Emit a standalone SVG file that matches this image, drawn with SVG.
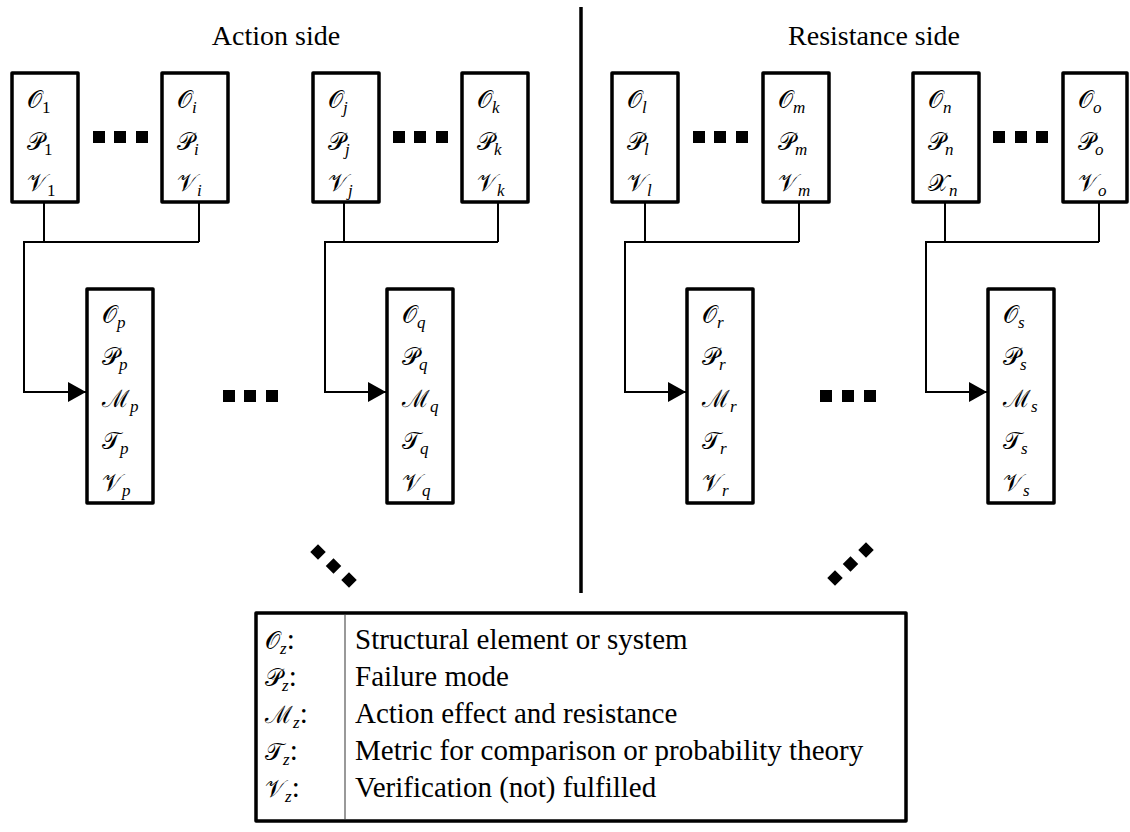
<svg xmlns="http://www.w3.org/2000/svg" width="1130" height="832" viewBox="0 0 1130 832">
<defs>
<style>
.box{fill:#fff;stroke:#000;stroke-width:3.5;stroke-linejoin:round}
.m{font-family:'DejaVu Serif','Liberation Serif','Times New Roman',serif;font-size:24px;fill:#000}
.sub{font-family:'Liberation Serif','Times New Roman','DejaVu Serif',serif;font-style:italic;font-size:17px}
.subn{font-family:'Liberation Serif','Times New Roman','DejaVu Serif',serif;font-size:17px}
.t{font-family:'Liberation Serif','Times New Roman','DejaVu Serif',serif;font-size:28px;fill:#000}
.lg{font-family:'Liberation Serif','Times New Roman','DejaVu Serif',serif;font-size:29px;fill:#000}
.conn{fill:none;stroke:#000;stroke-width:2}
.dot{fill:#000}
</style>
<marker id="ah" viewBox="0 0 18 20" refX="18" refY="10" markerWidth="18" markerHeight="20" markerUnits="userSpaceOnUse" orient="auto"><path d="M0,0 L18,10 L0,20 z" fill="#000"/></marker>
</defs>
<rect width="1130" height="832" fill="#fff"/>

<text class="t" x="276" y="45" text-anchor="middle">Action side</text>
<text class="t" x="874" y="45" text-anchor="middle">Resistance side</text>
<line x1="581" y1="7" x2="581" y2="593" stroke="#000" stroke-width="3.5"/>

<g id="connectors">
<path class="conn" d="M44,203 V242 M199,203 V242 M199,242 H24 V392 H86" marker-end="url(#ah)"/>
<path class="conn" d="M344,203 V242 M498,203 V242 M498,242 H325 V392 H386" marker-end="url(#ah)"/>
<path class="conn" d="M645,203 V242 M799,203 V242 M799,242 H625 V392 H686" marker-end="url(#ah)"/>
<path class="conn" d="M945,203 V242 M1099,203 V242 M1099,242 H926 V392 H987" marker-end="url(#ah)"/>
</g>

<g id="n1"><rect class="box" x="12" y="73" width="66" height="129"/>
<text class="m" x="27" y="108">𝒪<tspan class="subn" dy="5">1</tspan></text>
<text class="m" x="27" y="150">𝒫<tspan class="subn" dy="5">1</tspan></text>
<text class="m" x="27" y="191">𝒱<tspan class="subn" dy="5">1</tspan></text></g>
<g id="ni"><rect class="box" x="162" y="73" width="66" height="129"/>
<text class="m" x="177" y="108">𝒪<tspan class="sub" dy="5">i</tspan></text>
<text class="m" x="177" y="150">𝒫<tspan class="sub" dy="5">i</tspan></text>
<text class="m" x="177" y="191">𝒱<tspan class="sub" dy="5">i</tspan></text></g>
<g id="nj"><rect class="box" x="313" y="73" width="66" height="129"/>
<text class="m" x="328" y="108">𝒪<tspan class="sub" dy="5">j</tspan></text>
<text class="m" x="328" y="150">𝒫<tspan class="sub" dy="5">j</tspan></text>
<text class="m" x="328" y="191">𝒱<tspan class="sub" dy="5">j</tspan></text></g>
<g id="nk"><rect class="box" x="462" y="73" width="66" height="129"/>
<text class="m" x="477" y="108">𝒪<tspan class="sub" dy="5">k</tspan></text>
<text class="m" x="477" y="150">𝒫<tspan class="sub" dy="5">k</tspan></text>
<text class="m" x="477" y="191">𝒱<tspan class="sub" dy="5">k</tspan></text></g>
<g id="nl"><rect class="box" x="612" y="73" width="66" height="129"/>
<text class="m" x="627" y="108">𝒪<tspan class="sub" dy="5">l</tspan></text>
<text class="m" x="627" y="150">𝒫<tspan class="sub" dy="5">l</tspan></text>
<text class="m" x="627" y="191">𝒱<tspan class="sub" dy="5">l</tspan></text></g>
<g id="nm"><rect class="box" x="763" y="73" width="66" height="129"/>
<text class="m" x="778" y="108">𝒪<tspan class="sub" dy="5">m</tspan></text>
<text class="m" x="778" y="150">𝒫<tspan class="sub" dy="5">m</tspan></text>
<text class="m" x="778" y="191">𝒱<tspan class="sub" dy="5">m</tspan></text></g>
<g id="nn"><rect class="box" x="913" y="73" width="66" height="129"/>
<text class="m" x="928" y="108">𝒪<tspan class="sub" dy="5">n</tspan></text>
<text class="m" x="928" y="150">𝒫<tspan class="sub" dy="5">n</tspan></text>
<text class="m" x="928" y="191">𝒳<tspan class="sub" dy="5">n</tspan></text></g>
<g id="no"><rect class="box" x="1063" y="73" width="64" height="129"/>
<text class="m" x="1078" y="108">𝒪<tspan class="sub" dy="5">o</tspan></text>
<text class="m" x="1078" y="150">𝒫<tspan class="sub" dy="5">o</tspan></text>
<text class="m" x="1078" y="191">𝒱<tspan class="sub" dy="5">o</tspan></text></g>

<g id="np"><rect class="box" x="87" y="289" width="66" height="214"/>
<text class="m" x="102" y="323">𝒪<tspan class="sub" dy="5">p</tspan></text>
<text class="m" x="102" y="365">𝒫<tspan class="sub" dy="5">p</tspan></text>
<text class="m" x="102" y="407">ℳ<tspan class="sub" dy="5">p</tspan></text>
<text class="m" x="102" y="449">𝒯<tspan class="sub" dy="5">p</tspan></text>
<text class="m" x="102" y="491">𝒱<tspan class="sub" dy="5">p</tspan></text></g>
<g id="nq"><rect class="box" x="387" y="289" width="66" height="214"/>
<text class="m" x="402" y="323">𝒪<tspan class="sub" dy="5">q</tspan></text>
<text class="m" x="402" y="365">𝒫<tspan class="sub" dy="5">q</tspan></text>
<text class="m" x="402" y="407">ℳ<tspan class="sub" dy="5">q</tspan></text>
<text class="m" x="402" y="449">𝒯<tspan class="sub" dy="5">q</tspan></text>
<text class="m" x="402" y="491">𝒱<tspan class="sub" dy="5">q</tspan></text></g>
<g id="nr"><rect class="box" x="687" y="289" width="66" height="214"/>
<text class="m" x="702" y="323">𝒪<tspan class="sub" dy="5">r</tspan></text>
<text class="m" x="702" y="365">𝒫<tspan class="sub" dy="5">r</tspan></text>
<text class="m" x="702" y="407">ℳ<tspan class="sub" dy="5">r</tspan></text>
<text class="m" x="702" y="449">𝒯<tspan class="sub" dy="5">r</tspan></text>
<text class="m" x="702" y="491">𝒱<tspan class="sub" dy="5">r</tspan></text></g>
<g id="ns"><rect class="box" x="988" y="289" width="66" height="214"/>
<text class="m" x="1003" y="323">𝒪<tspan class="sub" dy="5">s</tspan></text>
<text class="m" x="1003" y="365">𝒫<tspan class="sub" dy="5">s</tspan></text>
<text class="m" x="1003" y="407">ℳ<tspan class="sub" dy="5">s</tspan></text>
<text class="m" x="1003" y="449">𝒯<tspan class="sub" dy="5">s</tspan></text>
<text class="m" x="1003" y="491">𝒱<tspan class="sub" dy="5">s</tspan></text></g>

<g id="ellipses" class="dot">
<rect x="93" y="131" width="12" height="12"/><rect x="114" y="131" width="12" height="12"/><rect x="136" y="131" width="12" height="12"/>
<rect x="393" y="131" width="12" height="12"/><rect x="414" y="131" width="12" height="12"/><rect x="436" y="131" width="12" height="12"/>
<rect x="693" y="131" width="12" height="12"/><rect x="714" y="131" width="12" height="12"/><rect x="736" y="131" width="12" height="12"/>
<rect x="993" y="131" width="12" height="12"/><rect x="1015" y="131" width="12" height="12"/><rect x="1036" y="131" width="12" height="12"/>
<rect x="223" y="390" width="12" height="12"/><rect x="244" y="390" width="12" height="12"/><rect x="266" y="390" width="12" height="12"/>
<rect x="820" y="390" width="12" height="12"/><rect x="842" y="390" width="12" height="12"/><rect x="864" y="390" width="12" height="12"/>
<rect x="-5.5" y="-5.5" width="11" height="11" transform="translate(318,552) rotate(45)"/>
<rect x="-5.5" y="-5.5" width="11" height="11" transform="translate(333.5,566) rotate(45)"/>
<rect x="-5.5" y="-5.5" width="11" height="11" transform="translate(349,580) rotate(45)"/>
<rect x="-5.5" y="-5.5" width="11" height="11" transform="translate(835,578) rotate(45)"/>
<rect x="-5.5" y="-5.5" width="11" height="11" transform="translate(850.5,564) rotate(45)"/>
<rect x="-5.5" y="-5.5" width="11" height="11" transform="translate(866,550) rotate(45)"/>
</g>

<g id="legend">
<rect class="box" x="256" y="613" width="650" height="208"/>
<line x1="345" y1="615" x2="345" y2="819" stroke="#999" stroke-width="2"/>
<text class="m" x="265" y="649">𝒪<tspan class="sub" dy="5">z</tspan><tspan class="lg" dy="-5">:</tspan></text>
<text class="m" x="265" y="686">𝒫<tspan class="sub" dy="5">z</tspan><tspan class="lg" dy="-5">:</tspan></text>
<text class="m" x="265" y="723">ℳ<tspan class="sub" dy="5">z</tspan><tspan class="lg" dy="-5">:</tspan></text>
<text class="m" x="265" y="760">𝒯<tspan class="sub" dy="5">z</tspan><tspan class="lg" dy="-5">:</tspan></text>
<text class="m" x="265" y="797">𝒱<tspan class="sub" dy="5">z</tspan><tspan class="lg" dy="-5">:</tspan></text>
<text class="lg" x="355" y="649">Structural element or system</text>
<text class="lg" x="355" y="686">Failure mode</text>
<text class="lg" x="355" y="723">Action effect and resistance</text>
<text class="lg" x="355" y="760">Metric for comparison or probability theory</text>
<text class="lg" x="355" y="797">Verification (not) fulfilled</text>
</g>
</svg>
